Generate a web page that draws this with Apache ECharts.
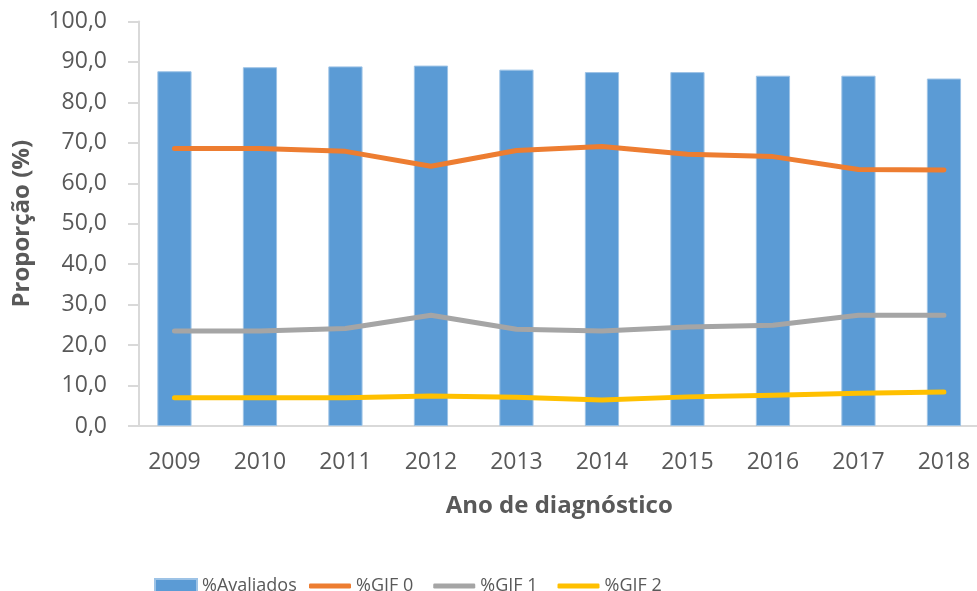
<!DOCTYPE html>
<html>
<head>
<meta charset="utf-8">
<script src="https://cdn.jsdelivr.net/npm/echarts@6/dist/echarts.min.js"></script>
<style>
  html, body { margin: 0; padding: 0; background: #fff; }
  #chart { width: 977px; height: 591px; }
</style>
</head>
<body>
<div id="chart"></div>
<script>
var years = ['2009', '2010', '2011', '2012', '2013', '2014', '2015', '2016', '2017', '2018'];
var avaliados = [87.7, 88.7, 88.9, 89.1, 88.1, 87.5, 87.5, 86.6, 86.6, 85.9];
var gif0 = [68.6, 68.6, 67.9, 64.2, 68.1, 69.1, 67.2, 66.6, 63.4, 63.3];
var gif1 = [23.5, 23.5, 24.1, 27.4, 23.9, 23.5, 24.5, 24.9, 27.4, 27.4];
var gif2 = [7.0, 7.0, 7.0, 7.4, 7.1, 6.4, 7.2, 7.6, 8.1, 8.4];

var textColor = '#595959';
var axisColor = '#d9d9d9';
var font = 'Open Sans';

function lineSerie(name, data, color) {
  return {
    name: name,
    type: 'line',
    data: data,
    symbol: 'none',
    lineStyle: { width: 5, color: color, cap: 'round', join: 'round' },
    itemStyle: { color: color }
  };
}

var legendText = { fontFamily: font, fontSize: 18, color: textColor };

var chart = echarts.init(document.getElementById('chart'));
chart.setOption({
  animation: false,
  backgroundColor: '#fff',
  textStyle: { fontFamily: font, color: textColor },
  grid: {
    left: 131.7,
    right: -9.7,
    top: 21.5,
    bottom: 165,
    outerBoundsMode: 'none'
  },
  legend: [{
    left: 149,
    top: 572,
    itemWidth: 42,
    itemHeight: 14,
    textStyle: legendText,
    data: [{ name: '%Avaliados', icon: 'rect' }]
  }, {
    left: 304,
    top: 572,
    itemWidth: 42,
    itemHeight: 5,
    itemGap: 20,
    icon: 'roundRect',
    textStyle: legendText,
    data: ['%GIF 0', '%GIF 1', '%GIF 2']
  }],
  xAxis: {
    type: 'category',
    data: years,
    name: 'Ano de diagnóstico',
    nameLocation: 'middle',
    nameGap: 68,
    nameTextStyle: { fontFamily: font, fontSize: 24, fontWeight: 'bold', color: textColor },
    axisLine: { lineStyle: { color: axisColor, width: 2 } },
    axisTick: { show: false },
    axisLabel: { fontFamily: font, fontSize: 23, color: textColor, margin: 25 }
  },
  yAxis: {
    type: 'value',
    min: 0,
    max: 100,
    interval: 10,
    offset: -7.3,
    name: 'Proporção (%)',
    nameLocation: 'middle',
    nameGap: 105,
    nameTextStyle: { fontFamily: font, fontSize: 24, fontWeight: 'bold', color: textColor },
    axisLine: { show: true, lineStyle: { color: axisColor, width: 2 } },
    axisTick: { show: true, length: 11, lineStyle: { color: axisColor, width: 2 } },
    splitLine: { show: false },
    axisLabel: {
      fontFamily: font,
      fontSize: 23,
      color: textColor,
      margin: 32,
      formatter: function(v) { return v.toFixed(1).replace('.', ','); }
    }
  },
  series: [
    {
      name: '%Avaliados',
      type: 'bar',
      data: avaliados,
      barWidth: '40%',
      itemStyle: { color: '#5b9bd5', borderColor: '#9dc3e6', borderWidth: 1 }
    },
    lineSerie('%GIF 0', gif0, '#ed7d31'),
    lineSerie('%GIF 1', gif1, '#a5a5a5'),
    lineSerie('%GIF 2', gif2, '#ffc000')
  ]
});
</script>
</body>
</html>
